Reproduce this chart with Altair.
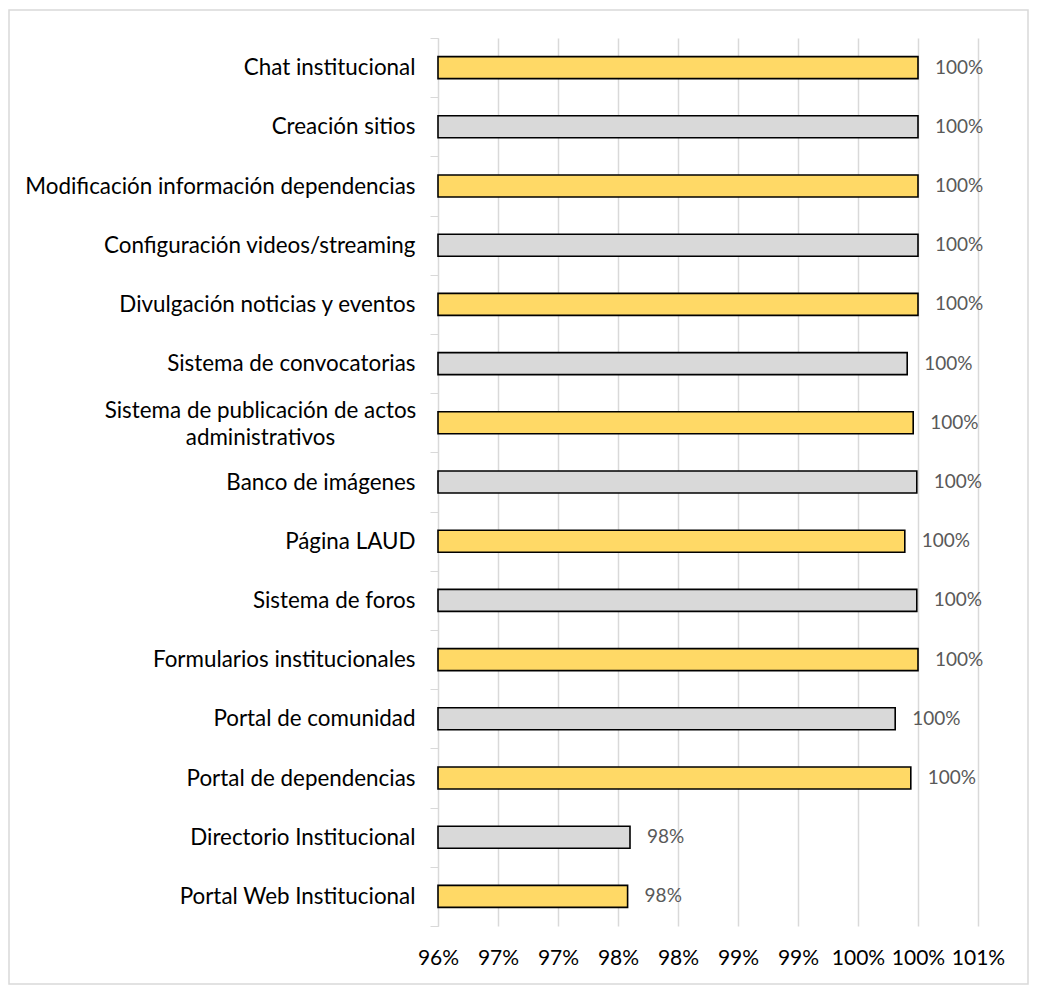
import altair as alt
import pandas as pd

categories = [
    "Chat institucional",
    "Creación sitios",
    "Modificación información dependencias",
    "Configuración videos/streaming",
    "Divulgación noticias y eventos",
    "Sistema de convocatorias",
    "Sistema de publicación de actos administrativos",
    "Banco de imágenes",
    "Página LAUD",
    "Sistema de foros",
    "Formularios institucionales",
    "Portal de comunidad",
    "Portal de dependencias",
    "Directorio Institucional",
    "Portal Web Institucional",
]
values = [1.0, 1.0, 1.0, 1.0, 1.0, 0.9991, 0.9996, 0.9999, 0.9989, 0.9999,
          1.0, 0.9981, 0.9994, 0.9760, 0.9758]
groups = ["A", "B", "A", "B", "A", "B", "A", "B", "A", "B", "A", "B", "A", "B", "A"]
group_domain = ["A", "B"]
group_colors = ["#FFD966", "#D9D9D9"]

tick_values = [0.96, 0.965, 0.97, 0.975, 0.98, 0.985, 0.99, 0.995, 1.0, 1.005]
tick_labels = ["96%", "97%", "97%", "98%", "98%", "99%", "99%", "100%", "100%", "101%"]

df = pd.DataFrame({"categoria": categories, "valor": values, "grupo": groups})

x_label_expr = ""
for v, lab in zip(tick_values, tick_labels):
    x_label_expr += f"round(datum.value*1000)=={round(v*1000)} ? '{lab}' : "
x_label_expr += "''"

wrapped = "Sistema de publicación de actos administrativos"
wrap_test = f"datum.value == '{wrapped}'"
y_label_expr = (
    f"{wrap_test} ? ['Sistema de publicación de actos', 'administrativos'] : datum.value"
)

FONT = "Lato"

y_enc = alt.Y(
    "categoria:N",
    sort=categories,
    scale=alt.Scale(paddingInner=0, paddingOuter=0),
    axis=alt.Axis(
        title=None,
        labelExpr=y_label_expr,
        labelFontSize=22.4,
        labelColor="#000000",
        labelPadding={"condition": {"test": wrap_test, "value": 170}, "value": 15},
        labelAlign={"condition": {"test": wrap_test, "value": "center"}, "value": "right"},
        labelOffset={"condition": {"test": wrap_test, "value": -12}, "value": 0},
        labelLimit=0,
        labelLineHeight=27,
        tickBand="extent",
        tickSize=8,
        tickColor="#d9d9d9",
        domainColor="#d9d9d9",
        grid=False,
    ),
)

x_scale = alt.Scale(domain=[0.96, 1.005], zero=False, nice=False)

bars = alt.Chart(df).mark_bar(size=22, stroke="black", strokeWidth=1.6).encode(
    y=y_enc,
    x=alt.X(
        "valor:Q",
        scale=x_scale,
        axis=alt.Axis(
            title=None,
            values=tick_values,
            labelExpr=x_label_expr,
            labelFontSize=21,
            labelColor="#000000",
            labelPadding=21,
            labelOverlap=False,
            labelFlush=False,
            domain=False,
            ticks=False,
            grid=True,
            gridColor="#d9d9d9",
            gridWidth=1.5,
        ),
    ),
    x2=alt.datum(0.96),
    color=alt.Color("grupo:N", scale=alt.Scale(domain=group_domain, range=group_colors), legend=None),
)

text = alt.Chart(df).mark_text(
    align="left", baseline="middle", dx=17, fontSize=19, color="#595959", font=FONT
).encode(
    y=alt.Y("categoria:N", sort=categories),
    x=alt.X("valor:Q", scale=x_scale),
    text=alt.Text("valor:Q", format=".0%"),
)

frame = alt.Chart(pd.DataFrame({"f": [0]})).mark_rect(
    fillOpacity=0, stroke="#d9d9d9", strokeWidth=1.5
).encode(
    x=alt.value(-429), x2=alt.value(590), y=alt.value(-28), y2=alt.value(946)
)

chart = alt.layer(frame, bars, text).properties(
    width=540,
    height=888,
    padding={"left": 430, "top": 30, "right": 51, "bottom": 59},
    autosize=alt.AutoSizeParams(type="none"),
).configure_view(stroke=None).configure_axis(labelFont=FONT)

chart.save("out.html", embed_options={"renderer": "svg", "actions": False})
